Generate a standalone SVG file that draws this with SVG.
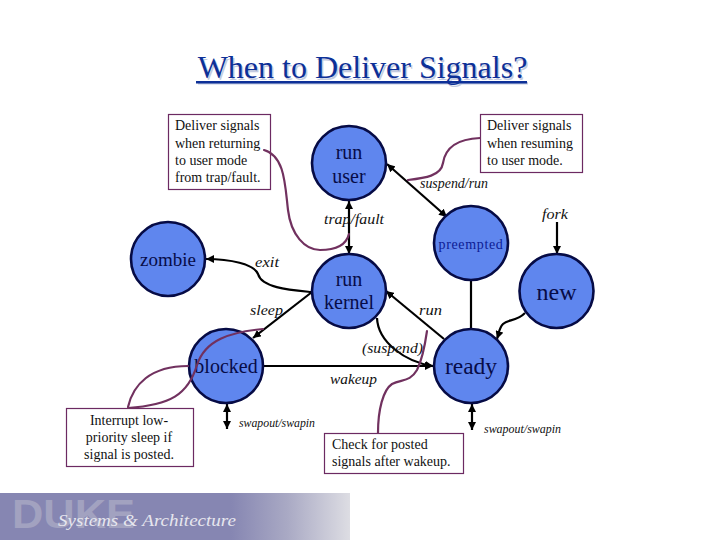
<svg xmlns="http://www.w3.org/2000/svg" width="720" height="540" viewBox="0 0 720 540">
<style>
text{font-family:"Liberation Serif","Times New Roman",serif}
.n circle{fill:#5f86ee;stroke:#060b45;stroke-width:2.6}
.n text{fill:#070c48;font-size:20px;text-anchor:middle}
.note rect{fill:#fff;stroke:#6c2a62;stroke-width:1.2}
.note text{fill:#111;font-size:14px}
.l{font-style:italic;font-size:15px;fill:#111}
.s{font-size:13px}
.c path,.c line{fill:none;stroke:#000;stroke-width:2.2}
.p path{fill:none;stroke:#71315f;stroke-width:2.2;stroke-linecap:round}
</style>
<defs>
<marker id="a" markerUnits="userSpaceOnUse" markerWidth="9" markerHeight="8" refX="8" refY="4" orient="auto-start-reverse"><path d="M0 0L8 4L0 8Z" fill="#000"/></marker>
<linearGradient id="g" x1="0" x2="1" y1="0" y2="0"><stop offset="0" stop-color="#8686b2"/><stop offset=".66" stop-color="#8686b2"/><stop offset=".82" stop-color="#a9a9c4"/><stop offset="1" stop-color="#dddde3"/></linearGradient>
</defs>
<rect width="720" height="540" fill="#fff"/>
<g id="title">
<text x="362.5" y="78" font-size="32" text-anchor="middle" fill="#c4cbe0" transform="translate(1.5 1.5)">When to Deliver Signals?</text>
<rect x="198" y="82" width="330" height="2.5" fill="#c4cbe0"/>
<text x="362.5" y="78" font-size="32" text-anchor="middle" fill="#0d3097">When to Deliver Signals?</text>
<rect x="196" y="81" width="331" height="2.5" fill="#0d3097"/>
</g>
<g id="banner">
<rect x="0" y="493" width="350" height="47" fill="url(#g)"/>
<text x="12" y="528" font-size="41" font-weight="700" fill="#a2a2c0" textLength="123" lengthAdjust="spacingAndGlyphs" style="font-family:'Liberation Sans',sans-serif">DUKE</text>
<text x="58" y="526" font-size="16" font-style="italic" fill="#e6e6ee" textLength="178" lengthAdjust="spacingAndGlyphs">Systems &amp; Architecture</text>
</g>
<g id="connectors" class="c">
<line x1="349" y1="201" x2="349" y2="254" marker-start="url(#a)" marker-end="url(#a)"/>
<line x1="387" y1="164" x2="447" y2="217" marker-start="url(#a)" marker-end="url(#a)"/>
<path d="M311 292C290 290 262 288 258 274C254 264 230 259 206 259" marker-end="url(#a)"/>
<line x1="312" y1="292" x2="253" y2="338" marker-end="url(#a)"/>
<line x1="444" y1="339" x2="386" y2="291" marker-end="url(#a)"/>
<line x1="471" y1="280" x2="471" y2="328"/>
<path d="M377 318C378 342 405 362 433 366" marker-end="url(#a)"/>
<line x1="264" y1="366" x2="433" y2="366" marker-end="url(#a)"/>
<path d="M525 313C516 322 508 319 503 324C499 328 499 333 497 339" marker-end="url(#a)"/>
<line x1="557" y1="222" x2="557" y2="254" marker-end="url(#a)"/>
<line x1="227" y1="404" x2="227" y2="429" marker-start="url(#a)" marker-end="url(#a)"/>
<line x1="472" y1="404" x2="472" y2="430" marker-start="url(#a)" marker-end="url(#a)"/>
</g>
<g id="run-user" class="n"><circle cx="349" cy="163" r="37"/><text x="349" y="159">run</text><text x="349" y="183">user</text></g>
<g id="zombie" class="n"><circle cx="168" cy="259" r="37"/><text x="168" y="266" style="font-size:19px">zombie</text></g>
<g id="run-kernel" class="n"><circle cx="349" cy="291" r="37"/><text x="349" y="286">run</text><text x="349" y="309">kernel</text></g>
<g id="preempted" class="n"><circle cx="471" cy="243" r="37"/><text x="471" y="249" style="font-size:14px;letter-spacing:.65px;fill:#0d1c94">preempted</text></g>
<g id="new" class="n"><circle cx="556.5" cy="291" r="37"/><text x="556.5" y="300" style="font-size:24px">new</text></g>
<g id="blocked" class="n"><circle cx="226" cy="366" r="37"/><text x="226" y="373">blocked</text></g>
<g id="ready" class="n"><circle cx="471" cy="366" r="37"/><text x="471" y="374" style="font-size:23.5px">ready</text></g>
<g id="labels">
<text class="l" x="420" y="188" textLength="68" lengthAdjust="spacingAndGlyphs" style="font-size:14px">suspend/run</text>
<text class="l" x="324" y="224" textLength="60" lengthAdjust="spacingAndGlyphs">trap/fault</text>
<text class="l" x="542" y="219" textLength="26" lengthAdjust="spacingAndGlyphs">fork</text>
<text class="l" x="255" y="267" textLength="24" lengthAdjust="spacingAndGlyphs">exit</text>
<text class="l" x="250" y="315" textLength="33" lengthAdjust="spacingAndGlyphs">sleep</text>
<text class="l" x="419" y="315" textLength="23" lengthAdjust="spacingAndGlyphs">run</text>
<text class="l" x="362" y="353" textLength="61" lengthAdjust="spacingAndGlyphs">(suspend)</text>
<text class="l" x="330" y="384" textLength="47" lengthAdjust="spacingAndGlyphs">wakeup</text>
<text class="l s" x="239" y="427" textLength="76" lengthAdjust="spacingAndGlyphs">swapout/swapin</text>
<text class="l s" x="484" y="433" textLength="77" lengthAdjust="spacingAndGlyphs">swapout/swapin</text>
</g>
<g id="note-return" class="note"><rect x="168.5" y="114.5" width="102" height="75"/><text x="175" y="130">Deliver signals</text><text x="175" y="148">when returning</text><text x="175" y="165">to user mode</text><text x="175" y="182">from trap/fault.</text></g>
<g id="note-resume" class="note"><rect x="480.5" y="114.5" width="102" height="58"/><text x="487" y="130">Deliver signals</text><text x="487" y="148">when resuming</text><text x="487" y="165">to user mode.</text></g>
<g id="note-interrupt" class="note"><rect x="66.5" y="408.5" width="127" height="58"/><text x="129" y="425" text-anchor="middle">Interrupt low-</text><text x="129" y="442" text-anchor="middle">priority sleep if</text><text x="129" y="459" text-anchor="middle">signal is posted.</text></g>
<g id="note-check" class="note"><rect x="324.5" y="433.5" width="139" height="40"/><text x="332" y="449">Check for posted</text><text x="332" y="466">signals after wakeup.</text></g>
<g id="callouts" class="p">
<path d="M264 150C285 156 285 185 288 210C291 235 305 250 320 250C335 250 346 246 349 234"/>
<path d="M480 138C455 139 445 150 443 163C441 176 425 178 408 180"/>
<path d="M128 407C133 385 150 366 188 366"/>
<path d="M128 408C170 405 188 395 197 365C205 340 230 332 263 329"/>
<path d="M378 433C378 410 383 390 392 384C402 379 410 382 417 370C423 358 425 345 427 331"/>
</g>
</svg>
